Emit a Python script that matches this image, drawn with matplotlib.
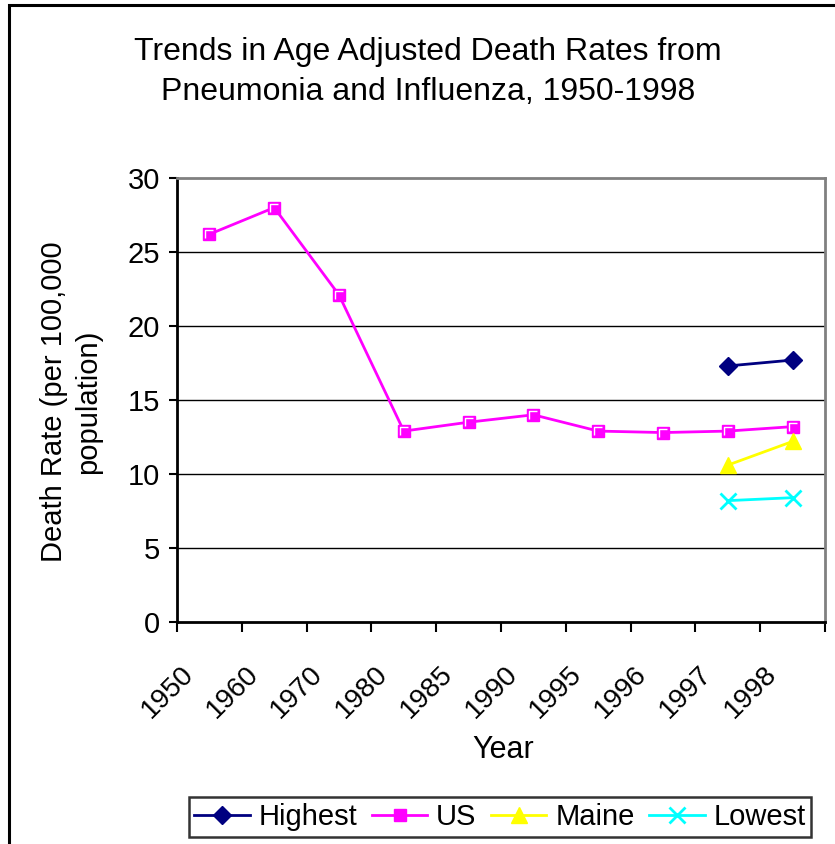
import numpy as np
import matplotlib
matplotlib.use("Agg")
import matplotlib.pyplot as plt
import matplotlib.patches as mpatches
from matplotlib.path import Path
from matplotlib.transforms import offset_copy

plt.rcParams['font.family'] = ['Liberation Sans', 'DejaVu Sans']

# dane
years = ['1950', '1960', '1970', '1980', '1985', '1990', '1995', '1996', '1997', '1998']
us = [26.2, 28.0, 22.1, 12.9, 13.5, 14.0, 12.9, 12.8, 12.9, 13.2]
highest = [17.3, 17.7]   # 1997, 1998
maine = [10.6, 12.2]
lowest = [8.2, 8.4]
last_two = [8, 9]  # indeksy 1997, 1998

W, H = 835, 844
fig = plt.figure(figsize=(W / 100, H / 100), dpi=100)
ax = fig.add_axes([177 / W, 1 - 622 / H, (825 - 177) / W, (622 - 178) / H])

x = np.arange(len(years))
ax.set_xlim(-0.5, len(years) - 0.5)
ax.set_ylim(0, 30)

# linie siatki
for g in [5, 10, 15, 20, 25]:
    ax.axhline(g, color='black', lw=1.0, zorder=1)

navy = '#000080'
mag = '#FF00FF'
yel = '#FFFF00'
cyan = '#00FFFF'

# znacznik "L" - biala podswietlka w kwadracie (styl Excela)
L_path = Path([(-1, -1), (-1, 1), (1, 1)], [Path.MOVETO, Path.LINETO, Path.LINETO])

ax.plot(last_two, highest, color=navy, lw=2, marker='D', ms=9, mfc=navy, mec=navy, zorder=3)
ax.plot(x, us, color=mag, lw=2, marker='s', ms=9, mfc=mag, mec=mag, zorder=3)
ax.plot(x, us, ls='none', marker=L_path, ms=6, mfc='none', mec='white', mew=1.0, zorder=4)
ax.plot(last_two, maine, color=yel, lw=2, marker='^', ms=11, mfc=yel, mec=yel, zorder=3)
ax.plot(last_two, lowest, color=cyan, lw=2, marker='x', ms=11, mew=2, zorder=3)

# osie
ax.set_yticks([0, 5, 10, 15, 20, 25, 30])
ax.tick_params(axis='y', labelsize=21, length=6, width=1.5, pad=6, direction='out')
ax.set_xticks(np.arange(len(years) + 1) - 0.5)
ax.set_xticklabels([])
ax.tick_params(axis='x', length=7, width=1.5, direction='out')
for s in ['left', 'bottom']:
    ax.spines[s].set_linewidth(2)
    ax.spines[s].set_color('black')
for s in ['top', 'right']:
    ax.spines[s].set_linewidth(2)
    ax.spines[s].set_color('#808080')

tr = offset_copy(ax.get_xaxis_transform(), fig=fig, x=-20, y=-48, units='dots')
for i, lab in enumerate(years):
    ax.text(x[i], 0, lab, transform=tr, rotation=45, rotation_mode='anchor',
            ha='right', va='center', fontsize=20)

fig.text(428 / W, 1 - 72 / H,
         'Trends in Age Adjusted Death Rates from\nPneumonia and Influenza, 1950-1998',
         ha='center', va='center', fontsize=23, linespacing=1.4)
fig.text(71 / W, 1 - 402 / H, 'Death Rate (per 100,000\npopulation)', rotation=90,
         ha='center', va='center', fontsize=21, multialignment='center', linespacing=1.3)
fig.text(503 / W, 1 - 750 / H, 'Year', ha='center', va='center', fontsize=22)

# legenda
h1, = ax.plot([], [], color=navy, lw=2, marker='D', ms=9, mfc=navy, mec=navy)
h2, = ax.plot([], [], color=mag, lw=2, marker='s', ms=9, mfc=mag, mec=mag)
h3, = ax.plot([], [], color=yel, lw=2, marker='^', ms=11, mfc=yel, mec=yel)
h4, = ax.plot([], [], color=cyan, lw=2, marker='x', ms=11, mew=2)
leg = fig.legend([h1, h2, h3, h4], ['Highest', 'US', 'Maine', 'Lowest'],
                 loc='center', bbox_to_anchor=(500 / W, 1 - 817 / H), ncol=4,
                 fontsize=21, frameon=True, fancybox=False, handlelength=1.9,
                 handletextpad=0.3, columnspacing=0.5, borderpad=0.2,
                 borderaxespad=0)
leg.get_frame().set_edgecolor('black')
leg.get_frame().set_linewidth(1.8)

# ramka wykresu
fig.patches.append(mpatches.Rectangle((8.5 / W, -0.1), 1.2, 1.1 - 5.5 / H,
                                      transform=fig.transFigure, fill=False,
                                      edgecolor='black', lw=2.2))

fig.savefig('out.png', dpi=100)
